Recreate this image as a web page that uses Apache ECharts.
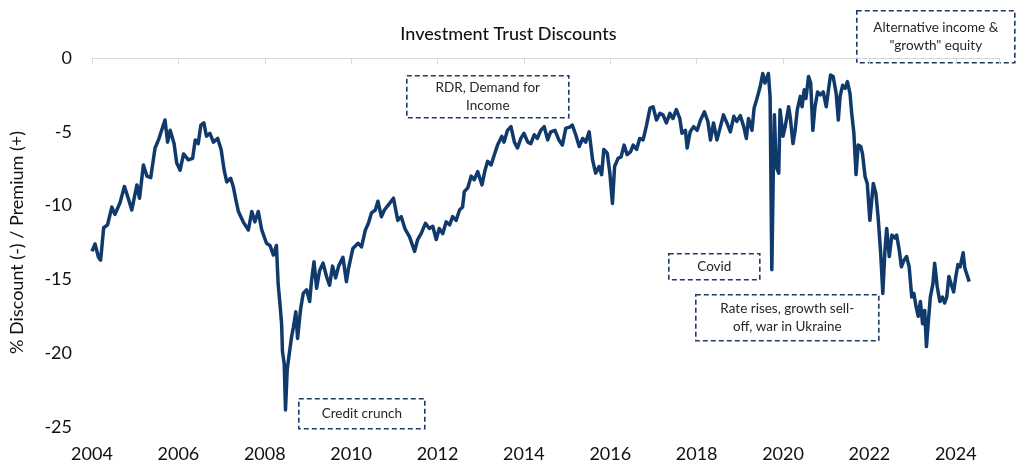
<!DOCTYPE html>
<html>
<head>
<meta charset="utf-8">
<title>Investment Trust Discounts</title>
<script src="https://cdn.jsdelivr.net/npm/echarts@6/dist/echarts.min.js"></script>
<style>
  html, body { margin: 0; padding: 0; background: #fff; }
  #chart { width: 1017px; height: 467px; }
</style>
</head>
<body>
<div id="chart"></div>
<script>
// decimal year of each reading
var years = [
  2004.00, 2004.07, 2004.15, 2004.20, 2004.27, 2004.36, 2004.46, 2004.53, 2004.65, 2004.75, 2004.85, 2004.92,
  2005.04, 2005.10, 2005.19, 2005.27, 2005.36, 2005.46, 2005.54, 2005.59, 2005.69, 2005.75, 2005.81, 2005.90, 2005.96,
  2006.04, 2006.12, 2006.23, 2006.33, 2006.39, 2006.46, 2006.52, 2006.59, 2006.65, 2006.73, 2006.81, 2006.91, 2006.99,
  2007.06, 2007.12, 2007.21, 2007.27, 2007.33, 2007.39, 2007.50, 2007.62, 2007.70, 2007.77, 2007.85, 2007.93,
  2008.04, 2008.12, 2008.20, 2008.27, 2008.31, 2008.35, 2008.39, 2008.41, 2008.45, 2008.48, 2008.52, 2008.56,
  2008.62, 2008.66, 2008.72, 2008.76, 2008.83, 2008.89, 2008.97,
  2009.04, 2009.08, 2009.14, 2009.20, 2009.27, 2009.35, 2009.43, 2009.50, 2009.57, 2009.64, 2009.71, 2009.81, 2009.89, 2009.94,
  2010.04, 2010.16, 2010.24, 2010.33, 2010.40, 2010.47, 2010.56, 2010.62, 2010.70, 2010.77, 2010.89, 2010.98,
  2011.08, 2011.16, 2011.25, 2011.35, 2011.47, 2011.54, 2011.62, 2011.72, 2011.81, 2011.89, 2011.97,
  2012.04, 2012.12, 2012.20, 2012.28, 2012.35, 2012.43, 2012.51, 2012.58, 2012.62, 2012.70, 2012.78, 2012.85, 2012.93,
  2013.03, 2013.10, 2013.16, 2013.24, 2013.31, 2013.39, 2013.49, 2013.54, 2013.62, 2013.70, 2013.78, 2013.85, 2013.93,
  2014.00, 2014.09, 2014.16, 2014.24, 2014.31, 2014.39, 2014.47, 2014.55, 2014.62, 2014.72, 2014.81, 2014.89, 2014.97,
  2015.05, 2015.12, 2015.20, 2015.28, 2015.36, 2015.43, 2015.51, 2015.59, 2015.66, 2015.74, 2015.80, 2015.85, 2015.93, 2015.99,
  2016.05, 2016.10, 2016.18, 2016.25, 2016.32, 2016.39, 2016.47, 2016.53, 2016.61, 2016.68, 2016.76, 2016.84, 2016.92, 2016.99,
  2017.07, 2017.15, 2017.22, 2017.30, 2017.38, 2017.45, 2017.53, 2017.61, 2017.66, 2017.74, 2017.78, 2017.85, 2017.93,
  2018.01, 2018.09, 2018.18, 2018.26, 2018.32, 2018.39, 2018.47, 2018.55, 2018.62, 2018.70, 2018.78, 2018.86, 2018.93,
  2019.01, 2019.09, 2019.15, 2019.20, 2019.28, 2019.33, 2019.41, 2019.47, 2019.53, 2019.58, 2019.66, 2019.70, 2019.74,
  2019.78, 2019.80, 2019.84, 2019.90, 2019.93,
  2020.00, 2020.05, 2020.13, 2020.17, 2020.23, 2020.28, 2020.33, 2020.40, 2020.44, 2020.49, 2020.53, 2020.59, 2020.64,
  2020.69, 2020.74, 2020.80, 2020.86, 2020.93,
  2021.00, 2021.04, 2021.10, 2021.16, 2021.23, 2021.28, 2021.32, 2021.38, 2021.44, 2021.49, 2021.55, 2021.59, 2021.64,
  2021.69, 2021.74, 2021.80, 2021.84, 2021.90, 2021.95,
  2022.01, 2022.09, 2022.15, 2022.20, 2022.26, 2022.31, 2022.36, 2022.40, 2022.46, 2022.52, 2022.59, 2022.63, 2022.69,
  2022.74, 2022.80, 2022.86, 2022.92, 2022.98,
  2023.03, 2023.08, 2023.13, 2023.18, 2023.23, 2023.28, 2023.32, 2023.36, 2023.41, 2023.47, 2023.51, 2023.57, 2023.63,
  2023.69, 2023.74, 2023.79, 2023.84, 2023.90, 2023.95,
  2024.00, 2024.05, 2024.10, 2024.17, 2024.21, 2024.25, 2024.31
];

// % discount (-) / premium (+)
var discounts = [
  -13.1, -12.6, -13.5, -13.7, -11.5, -11.3, -10.1, -10.6, -9.8, -8.7, -9.6, -10.3,
  -8.6, -9.5, -7.25, -8.0, -8.1, -6.1, -5.55, -5.1, -4.2, -5.7, -4.9, -5.8, -7.1,
  -7.6, -6.5, -6.9, -6.8, -5.55, -5.8, -4.55, -4.4, -5.3, -5.1, -5.7, -5.45, -6.2,
  -7.6, -8.4, -8.15, -8.7, -9.6, -10.4, -11.1, -11.65, -10.4, -11.1, -10.4, -11.65,
  -12.55, -12.7, -13.35, -12.7, -15.3, -16.6, -18.0, -19.9, -20.7, -23.85, -21.1, -20.2,
  -18.9, -18.3, -17.2, -19.0, -17.0, -15.95, -15.7,
  -16.5, -15.15, -13.8, -15.6, -14.4, -13.9, -14.8, -15.4, -14.1, -14.9, -14.1, -13.5, -15.15, -14.25,
  -12.9, -12.55, -12.8, -11.65, -11.2, -10.5, -10.3, -9.7, -10.75, -10.3, -9.85, -9.5,
  -11.0, -10.75, -11.6, -12.1, -13.1, -12.3, -11.9, -11.2, -11.55, -11.4, -12.3,
  -11.55, -11.9, -11.1, -11.3, -10.75, -11.0, -10.3, -10.1, -9.05, -8.8, -8.0, -8.25, -7.7,
  -8.6, -7.6, -7.0, -7.25, -6.6, -5.9, -5.3, -5.7, -4.9, -4.65, -5.7, -6.1, -5.45,
  -5.1, -5.7, -5.8, -5.2, -5.45, -4.9, -4.65, -5.55, -5.0, -4.9, -5.55, -5.9, -4.75,
  -4.7, -4.55, -5.2, -6.0, -5.45, -5.7, -5.0, -6.9, -7.8, -7.35, -7.9, -6.2, -6.45, -7.8,
  -9.85, -7.35, -6.8, -6.7, -5.9, -6.55, -6.35, -5.9, -6.2, -5.45, -5.55, -4.55, -3.4, -3.3,
  -4.2, -3.75, -3.85, -4.4, -3.75, -4.1, -3.5, -4.1, -5.1, -4.9, -6.1, -5.0, -4.65,
  -4.9, -4.2, -3.65, -4.3, -5.55, -4.4, -5.55, -4.65, -3.85, -4.4, -5.0, -3.95, -4.3,
  -3.9, -4.65, -5.45, -4.1, -4.9, -3.4, -2.6, -1.95, -1.05, -1.7, -1.05, -2.6, -14.35,
  -6.7, -3.85, -7.35, -7.8, -3.5,
  -5.3, -4.65, -3.3, -4.1, -5.8, -4.9, -3.5, -2.6, -3.3, -2.15, -2.75, -1.25, -1.7,
  -4.9, -3.3, -2.3, -2.5, -2.3,
  -3.3, -2.4, -1.15, -1.25, -2.4, -4.2, -2.6, -1.85, -2.05, -1.6, -2.4, -3.75, -5.1,
  -7.9, -5.9, -6.0, -6.5, -8.05, -8.5,
  -11.0, -8.5, -9.2, -10.75, -13.2, -15.95, -13.0, -11.55, -13.45, -12.0, -12.2, -12.0, -13.0,
  -14.15, -13.7, -13.45, -14.15, -16.2,
  -15.95, -16.85, -17.5, -16.5, -18.0, -17.1, -19.55, -18.0, -16.2, -15.3, -13.9, -15.5, -16.5,
  -16.2, -16.6, -16.2, -14.8, -15.4, -15.85,
  -14.8, -14.0, -14.15, -13.2, -14.25, -14.15, -15.15
];

var yearTicks = [2004, 2006, 2008, 2010, 2012, 2014, 2016, 2018, 2020, 2022, 2024];

var annotations = [
  { text: 'RDR, Demand for\nIncome', x: 406, y: 75, w: 162, h: 42 },
  { text: 'Alternative income &\n"growth" equity', x: 856, y: 10, w: 158, h: 52 },
  { text: 'Credit crunch', x: 298, y: 398, w: 126, h: 30 },
  { text: 'Covid', x: 668, y: 253, w: 91, h: 26 },
  { text: 'Rate rises, growth sell-\noff, war in Ukraine', x: 695, y: 294, w: 183, h: 46 }
];

var navy = '#0f3a6b';
var font = 'Lato, "Open Sans", sans-serif';

var seriesData = years.map(function (yr, i) { return [yr, discounts[i]]; });

var chart = echarts.init(document.getElementById('chart'), null, { renderer: 'canvas' });

chart.setOption({
  animation: false,
  backgroundColor: '#fff',
  title: {
    text: 'Investment Trust Discounts',
    left: 'center',
    top: 20,
    textStyle: { fontFamily: font, fontSize: 18, fontWeight: 500, color: '#111' }
  },
  grid: { left: 90, right: 18, top: 58, bottom: 40 },
  xAxis: [
    {
      type: 'value',
      position: 'top',
      min: 2004,
      max: 2025,
      interval: 2,
      axisLine: { show: true, lineStyle: { color: '#d9d9d9', width: 1 } },
      axisTick: { show: true, inside: true, length: 6, lineStyle: { color: '#d9d9d9' } },
      axisLabel: { show: false },
      splitLine: { show: false }
    },
    {
      type: 'value',
      position: 'bottom',
      min: 2004,
      max: 2025,
      interval: 2,
      axisLine: { show: false },
      axisTick: { show: false },
      splitLine: { show: false },
      axisLabel: {
        margin: 18,
        fontFamily: font,
        fontSize: 18,
        color: '#111',
        formatter: function (v) { return yearTicks.indexOf(v) >= 0 ? String(v) : ''; }
      }
    }
  ],
  yAxis: {
    type: 'value',
    min: -25,
    max: 0,
    interval: 5,
    name: '% Discount (-) / Premium (+)',
    nameLocation: 'middle',
    nameGap: 66,
    nameTextStyle: { fontFamily: font, fontSize: 18, color: '#111' },
    axisLine: { show: false },
    axisTick: { show: false },
    splitLine: { show: false },
    axisLabel: { margin: 20, fontFamily: font, fontSize: 18, color: '#111' }
  },
  series: [{
    type: 'line',
    xAxisIndex: 0,
    data: seriesData,
    showSymbol: false,
    lineStyle: { color: navy, width: 3.5, join: 'round' },
    z: 3
  }],
  graphic: annotations.map(function (a) {
    return {
      type: 'group',
      left: a.x,
      top: a.y,
      z: 10,
      children: [
        {
          type: 'rect',
          shape: { x: 0, y: 0, width: a.w, height: a.h },
          style: { fill: '#fff', stroke: '#1f3a66', lineWidth: 1.6, lineDash: [5, 3] }
        },
        {
          type: 'text',
          x: a.w / 2,
          y: a.h / 2,
          style: {
            text: a.text,
            fill: '#262626',
            font: '13.5px ' + font,
            align: 'center',
            verticalAlign: 'middle',
            lineHeight: 18
          }
        }
      ]
    };
  })
});
</script>
</body>
</html>
